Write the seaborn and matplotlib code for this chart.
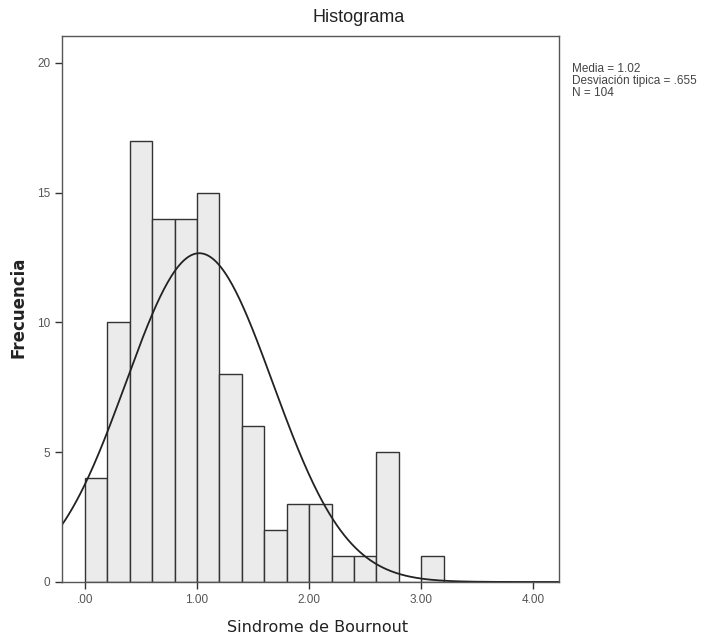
import numpy as np
import pandas as pd
import matplotlib
matplotlib.use("Agg")
import matplotlib.pyplot as plt
import seaborn as sns

# Data
bin_left = [0.0, 0.2, 0.4, 0.6, 0.8, 1.0, 1.2, 1.4, 1.6, 1.8, 2.0, 2.2, 2.4, 2.6, 2.8, 3.0]
counts = [4, 10, 17, 14, 14, 15, 8, 6, 2, 3, 3, 1, 1, 5, 0, 1]
bin_width = 0.2
mean_val = 1.02
sd_val = 0.655
n_val = 104
x_ticks = [0, 1, 2, 3, 4]
x_ticklabels = [".00", "1.00", "2.00", "3.00", "4.00"]
y_ticks = [0, 5, 10, 15, 20]

sns.set_theme(style="white")
plt.rcParams['font.family'] = ['Liberation Sans', 'DejaVu Sans']

fig = plt.figure(figsize=(7.08, 6.38), dpi=100)
ax = fig.add_axes([0.0876, 0.0878, 0.7019, 0.8558])

df = pd.DataFrame({"x": np.array(bin_left) + bin_width / 2, "w": counts})
edges = list(bin_left) + [bin_left[-1] + bin_width]
sns.histplot(data=df, x="x", weights="w", bins=edges, ax=ax,
             color="#ebebeb", edgecolor="#333333", linewidth=1.0, alpha=1.0)

xs = np.linspace(-0.21, 4.23, 400)
ys = n_val * bin_width / (sd_val * np.sqrt(2 * np.pi)) * np.exp(-0.5 * ((xs - mean_val) / sd_val) ** 2)
sns.lineplot(x=xs, y=ys, ax=ax, color="#222222", linewidth=1.3)

ax.set_xlim(-0.205, 4.23)
ax.set_ylim(0, 21.04)
ax.set_xticks(x_ticks)
ax.set_xticklabels(x_ticklabels)
ax.set_yticks(y_ticks)
ax.tick_params(axis="both", direction="out", length=5, width=1, color="#333333",
               labelsize=8.5, labelcolor="#555555", bottom=True, left=True)
for s in ax.spines.values():
    s.set_color("#555555")
    s.set_linewidth(1.0)

ax.set_xlabel("")
ax.set_ylabel("")
fig.text(359 / 708, 1 - 17 / 638, "Histograma", fontsize=13,
         color="#222222", ha="center", va="center")
fig.text(318 / 708, 1 - 628 / 638, "Sindrome de Bournout", fontsize=11.5,
         color="#222222", ha="center", va="center", family="DejaVu Sans")
fig.text(19 / 708, 1 - 307 / 638, "Frecuencia", fontsize=12, fontweight="bold",
         color="#222222", ha="center", va="center", rotation=90, family="DejaVu Sans")

fig.text(0.808, 0.902, "Media = 1.02\nDesviación tipica = .655\nN = 104",
         fontsize=8.5, color="#444444", va="top", ha="left", linespacing=1.0)

fig.savefig("out.png", dpi=100, facecolor="white")
